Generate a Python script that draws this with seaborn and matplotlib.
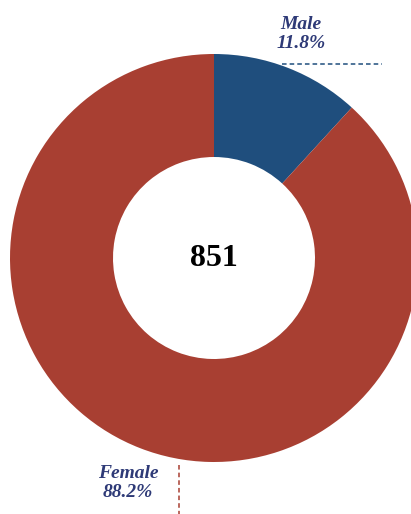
import matplotlib
matplotlib.use("Agg")
import matplotlib.pyplot as plt
import seaborn as sns

# data
labels = ["Male", "Female"]
shares = [11.8, 88.2]
total = 851
colors = ["#1f4e7d", "#a83f32"]

sns.set_style("white")
plt.rcParams['font.family'] = ['Liberation Serif', 'DejaVu Serif']

W, H = 411, 514
fig = plt.figure(figsize=(W / 100, H / 100), dpi=100)
ax = fig.add_axes([0, 0, 1, 1])
ax.set_xlim(0, W)
ax.set_ylim(0, H)
ax.set_aspect("equal")
ax.axis("off")

cx, cy, r = 214, H - 258, 204
ax.pie(shares, colors=colors, startangle=90, counterclock=False,
       center=(cx, cy), radius=r, wedgeprops=dict(width=103, linewidth=0),
       frame=True)
ax.set_xlim(0, W)
ax.set_ylim(0, H)
ax.axis("off")

ax.text(cx, cy, str(total), ha="center", va="center", fontsize=23,
        fontweight="bold", color="black")

label_color = "#2e3a77"
# Male label + leader
ax.text(301, H - 34, f"{labels[0]}\n{shares[0]}%", ha="center", va="center",
        fontsize=14, fontweight="bold", style="italic", color=label_color,
        linespacing=1.1)
ax.plot([282, 382], [H - 64, H - 64], color=colors[0], lw=1.1,
        ls=(0, (3, 2)))
# Female label + leader
ax.text(128, H - 483, f"{labels[1]}\n{shares[1]}%", ha="center", va="center",
        fontsize=14, fontweight="bold", style="italic", color=label_color,
        linespacing=1.1)
ax.plot([179, 179], [H - 465, 0], color=colors[1], lw=1.1, ls=(0, (3, 2)))

fig.savefig("out.png", dpi=100)
